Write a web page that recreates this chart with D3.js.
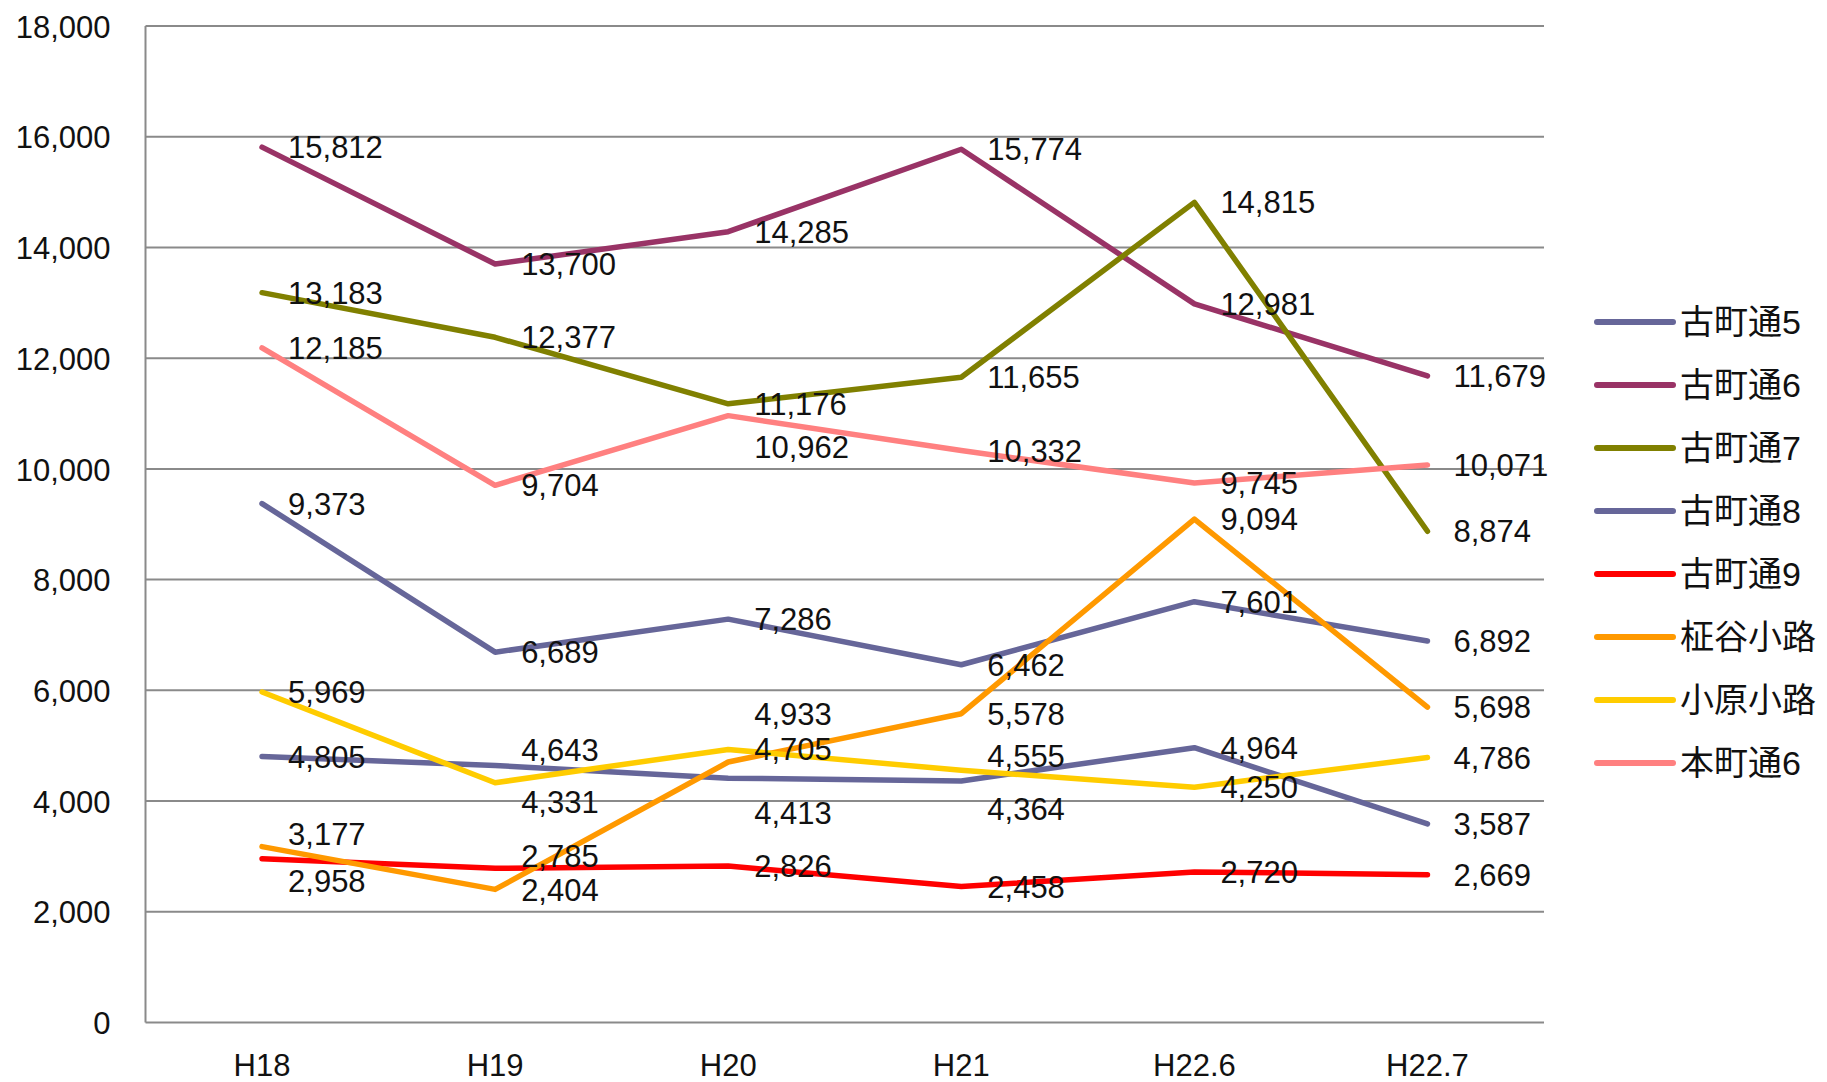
<html lang="ja">
<head>
  <meta charset="UTF-8" />
  <title>通行量の推移</title>
  <style>
    body, html {
      margin: 0;
      padding: 0;
      background: white;
    }
    text {
      font-family: "Liberation Sans", "Noto Sans CJK JP", sans-serif;
      fill: #111;
    }
    .grid line {
      stroke: #8a8a8a;
      stroke-width: 2;
    }
    .series {
      fill: none;
      stroke-width: 5.5;
      stroke-linejoin: round;
      stroke-linecap: round;
    }
  </style>
</head>
<body>
  <div id="canvas"></div>
  <script src="https://cdn.jsdelivr.net/npm/d3@7"></script>
  <script>
    // categories and values
    const categories = ["H18", "H19", "H20", "H21", "H22.6", "H22.7"];
    const seriesNames = ["古町通5", "古町通6", "古町通7", "古町通8", "古町通9", "柾谷小路", "小原小路", "本町通6"];
    const furumachi5 = [9373, 6689, 7286, 6462, 7601, 6892];
    const furumachi6 = [15812, 13700, 14285, 15774, 12981, 11679];
    const furumachi7 = [13183, 12377, 11176, 11655, 14815, 8874];
    const furumachi8 = [4805, 4643, 4413, 4364, 4964, 3587];
    const furumachi9 = [2958, 2785, 2826, 2458, 2720, 2669];
    const masayaKoji = [3177, 2404, 4705, 5578, 9094, 5698];
    const oharaKoji = [5969, 4331, 4933, 4555, 4250, 4786];
    const honcho6 = [12185, 9704, 10962, 10332, 9745, 10071];
    const yTicks = [0, 2000, 4000, 6000, 8000, 10000, 12000, 14000, 16000, 18000];

    const seriesValues = [furumachi5, furumachi6, furumachi7, furumachi8, furumachi9, masayaKoji, oharaKoji, honcho6];
    const colors = ["#666699", "#993366", "#808000", "#666699", "#ff0000", "#ff9900", "#ffcc00", "#ff8080"];

    // hand moved labels (series index -> point index -> px down)
    const labelNudge = {
      3: { 1: -16, 2: 35, 3: 28 },
      4: { 0: 22, 1: -12 },
      5: { 0: -13, 2: -13 },
      6: { 1: 19, 2: -36, 3: -14 },
      7: { 2: 31 }
    };

    const w = 1827, h = 1082;
    const margin = { top: 26, left: 145.5, right: 283, bottom: 59.5 };

    const svg = d3.select("#canvas").append("svg")
      .attr("width", w)
      .attr("height", h)
      .style("display", "block");

    const x = d3.scaleBand()
      .domain(categories)
      .range([margin.left, w - margin.right]);

    const y = d3.scaleLinear()
      .domain([0, 18000])
      .range([h - margin.bottom, margin.top]);

    const cx = d => x(d) + x.bandwidth() / 2;

    // grid lines
    svg.append("g").classed("grid", true)
      .selectAll("line")
      .data(yTicks)
      .enter().append("line")
      .attr("x1", margin.left)
      .attr("x2", w - margin.right)
      .attr("y1", d => y(d))
      .attr("y2", d => y(d));

    svg.append("line")
      .attr("x1", margin.left).attr("x2", margin.left)
      .attr("y1", y(18000)).attr("y2", y(0))
      .style("stroke", "#8a8a8a")
      .style("stroke-width", 2);

    // y axis
    const yAxis = d3.axisLeft(y)
      .tickValues(yTicks)
      .tickFormat(d3.format(","))
      .tickSize(0)
      .tickPadding(35);
    const yg = svg.append("g")
      .attr("transform", "translate(" + margin.left + ",0)")
      .call(yAxis);
    yg.select(".domain").remove();
    yg.selectAll("text").style("font-size", "31px").attr("dy", "0.36em");

    // x axis
    const xAxis = d3.axisBottom(x).tickSize(0).tickPadding(31);
    const xg = svg.append("g")
      .attr("transform", "translate(0," + y(0) + ")")
      .call(xAxis);
    xg.select(".domain").remove();
    xg.selectAll("text").style("font-size", "31px");

    // lines
    const line = d3.line()
      .x((d, i) => cx(categories[i]))
      .y(d => y(d));

    svg.selectAll(".series")
      .data(seriesValues)
      .enter().append("path")
      .classed("series", true)
      .attr("d", d => line(d))
      .style("stroke", (d, i) => colors[i]);

    // data labels
    seriesValues.forEach(function(vals, s) {
      svg.append("g").selectAll("text")
        .data(vals)
        .enter().append("text")
        .attr("x", (d, i) => cx(categories[i]) + 26)
        .attr("y", (d, i) => y(d) + ((labelNudge[s] && labelNudge[s][i]) || 0))
        .attr("dy", "0.36em")
        .style("font-size", "31px")
        .text(d => d3.format(",")(d));
    });

    // legend
    const legend = svg.append("g")
      .attr("transform", "translate(1595,322)");
    const item = legend.selectAll("g")
      .data(seriesNames)
      .enter().append("g")
      .attr("transform", (d, i) => "translate(0," + i * 63 + ")");
    item.append("line")
      .attr("x1", 2).attr("x2", 78)
      .attr("y1", 0).attr("y2", 0)
      .style("stroke", (d, i) => colors[i])
      .style("stroke-width", 6)
      .style("stroke-linecap", "round");
    item.append("text")
      .attr("x", 85)
      .attr("dy", "0.36em")
      .style("font-size", "34px")
      .text(d => d);
  </script>
</body>
</html>
